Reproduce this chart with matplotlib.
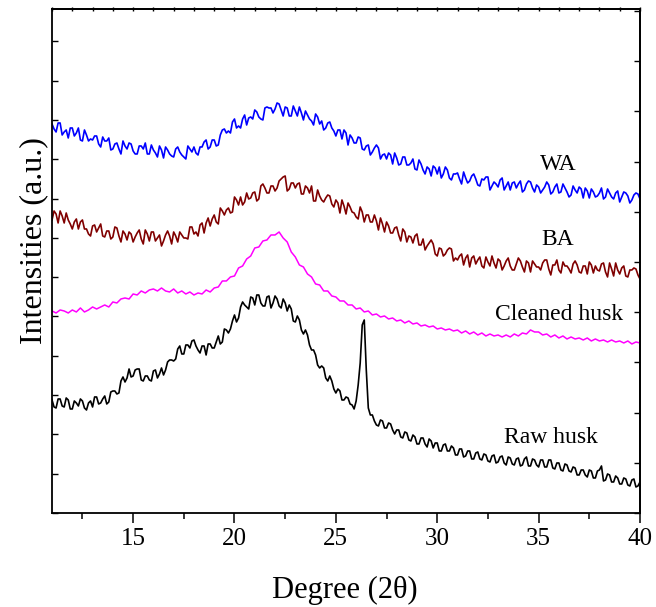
import numpy as np
import matplotlib
matplotlib.use("Agg")
import matplotlib.pyplot as plt
import matplotlib.ticker as ticker

# 2theta grids: noisy scans read every 0.1 degree, the smooth one every 0.2
theta_fine = np.round(np.arange(11.0, 40.001, 0.1), 1)
theta_coarse = np.round(np.arange(11.0, 40.001, 0.2), 1)

# intensities (arbitrary units, curves already offset)
wa = [389, 384, 381, 390, 390, 378, 381, 383, 375, 385,
      385, 377, 380, 385, 373, 372, 383, 378, 372, 374,
      373, 377, 377, 369, 366, 376, 372, 372, 375, 363,
      364, 369, 370, 364, 359, 372, 367, 364, 370, 369,
      362, 359, 359, 367, 367, 364, 370, 359, 359, 368,
      363, 360, 356, 367, 363, 355, 366, 363, 359, 357,
      356, 364, 366, 361, 358, 356, 354, 367, 364, 361,
      366, 360, 358, 366, 366, 371, 373, 364, 366, 373,
      373, 367, 368, 378, 383, 384, 380, 382, 380, 391,
      394, 385, 387, 385, 394, 398, 388, 395, 396, 394,
      403, 401, 396, 394, 393, 405, 406, 405, 405, 400,
      404, 410, 409, 403, 397, 406, 405, 397, 397, 407,
      402, 397, 406, 400, 393, 402, 398, 394, 392, 388,
      399, 396, 389, 392, 383, 385, 390, 391, 385, 382,
      377, 383, 383, 374, 383, 380, 368, 378, 375, 370,
      370, 376, 375, 364, 363, 367, 368, 358, 361, 365,
      368, 365, 354, 358, 359, 354, 360, 358, 349, 360,
      355, 348, 349, 356, 356, 348, 348, 350, 354, 344,
      343, 353, 349, 343, 339, 346, 344, 337, 347, 345,
      339, 346, 335, 339, 346, 343, 335, 333, 339, 339,
      340, 334, 329, 341, 335, 330, 332, 337, 339, 334,
      328, 327, 334, 333, 336, 336, 323, 327, 331, 329,
      326, 333, 335, 323, 327, 331, 323, 330, 331, 325,
      329, 332, 321, 323, 329, 332, 331, 325, 321, 328,
      326, 320, 323, 326, 331, 328, 319, 321, 326, 329,
      320, 321, 329, 325, 321, 316, 318, 327, 323, 320,
      326, 324, 315, 325, 322, 315, 324, 321, 316, 317,
      320, 325, 314, 316, 324, 320, 316, 314, 320, 322,
      311, 316, 321, 320, 317, 310, 313, 318, 320, 319,
      314]

ba = [293, 302, 299, 290, 302, 297, 290, 300, 293, 289,
      284, 291, 294, 284, 291, 293, 284, 284, 279, 277,
      287, 288, 281, 285, 289, 277, 276, 282, 282, 274,
      276, 286, 285, 277, 271, 282, 279, 273, 281, 279,
      271, 276, 280, 283, 274, 269, 283, 279, 272, 281,
      281, 272, 275, 278, 267, 272, 278, 282, 277, 269,
      281, 277, 271, 281, 278, 275, 275, 274, 286, 286,
      279, 281, 277, 288, 290, 280, 290, 295, 287, 294,
      298, 291, 289, 305, 302, 298, 303, 305, 300, 301,
      316, 313, 308, 316, 308, 311, 320, 314, 315, 320,
      321, 312, 314, 327, 329, 325, 320, 320, 327, 327,
      322, 325, 332, 334, 336, 337, 322, 324, 330, 330,
      325, 329, 330, 319, 319, 327, 325, 320, 327, 312,
      312, 323, 317, 313, 311, 315, 318, 317, 309, 306,
      313, 310, 300, 313, 307, 299, 310, 306, 301, 300,
      296, 294, 306, 301, 291, 298, 298, 291, 291, 298,
      292, 283, 295, 289, 281, 291, 287, 280, 280, 285,
      286, 278, 272, 284, 281, 271, 277, 276, 270, 277,
      279, 268, 268, 274, 263, 267, 270, 273, 269, 259,
      257, 265, 264, 257, 259, 263, 265, 264, 252, 255,
      253, 257, 259, 248, 255, 258, 246, 255, 257, 249,
      253, 256, 247, 245, 256, 251, 247, 257, 250, 245,
      254, 252, 243, 247, 252, 255, 247, 243, 243, 249,
      255, 252, 246, 241, 252, 250, 241, 252, 249, 246,
      246, 243, 250, 253, 253, 244, 238, 248, 248, 253,
      243, 240, 251, 247, 247, 244, 240, 249, 252, 248,
      241, 240, 247, 247, 239, 251, 248, 240, 247, 243,
      242, 249, 250, 241, 236, 250, 244, 237, 250, 243,
      239, 245, 247, 237, 236, 243, 243, 245, 244, 238,
      234]

cleaned = [202, 200, 203, 202, 200, 203, 201, 205, 201, 203,
           206, 204, 206, 208, 206, 211, 210, 214, 215, 214,
           219, 218, 222, 220, 223, 224, 222, 225, 222, 221,
           224, 220, 222, 219, 221, 218, 220, 219, 223, 221,
           225, 226, 232, 232, 236, 237, 245, 247, 254, 257,
           265, 266, 272, 273, 278, 278, 281, 275, 271, 261,
           256, 248, 246, 239, 236, 229, 228, 222, 222, 217,
           216, 212, 212, 208, 208, 204, 205, 201, 202, 198,
           199, 196, 197, 194, 195, 192, 193, 190, 192, 189,
           190, 187, 188, 186, 187, 184, 185, 183, 184, 182,
           183, 180, 182, 179, 181, 178, 180, 177, 179, 177,
           178, 176, 178, 176, 179, 177, 180, 179, 183, 181,
           181, 178, 179, 176, 178, 175, 177, 174, 176, 174,
           175, 173, 175, 172, 174, 172, 173, 171, 173, 171,
           172, 170, 172, 169, 171, 170]

raw = [113, 106, 105, 114, 114, 107, 106, 115, 113, 104,
       104, 112, 110, 107, 114, 112, 105, 103, 110, 112,
       106, 116, 116, 109, 110, 114, 117, 109, 111, 121,
       122, 122, 119, 120, 132, 136, 131, 135, 144, 136,
       137, 143, 144, 144, 133, 132, 137, 137, 133, 132,
       142, 143, 135, 139, 145, 138, 143, 151, 153, 153,
       152, 154, 164, 167, 159, 159, 168, 168, 165, 172,
       173, 167, 163, 160, 167, 167, 158, 169, 169, 165,
       165, 171, 177, 169, 171, 184, 183, 180, 184, 192,
       198, 191, 195, 206, 211, 208, 206, 204, 216, 215,
       208, 218, 218, 210, 207, 207, 216, 217, 205, 210,
       217, 214, 207, 205, 214, 210, 202, 208, 204, 192,
       191, 197, 193, 183, 179, 183, 178, 168, 163, 163,
       158, 148, 145, 147, 145, 135, 132, 137, 132, 124,
       120, 124, 122, 113, 113, 116, 115, 109, 108, 104,
       112, 128, 150, 188, 193, 143, 105, 98, 98, 92,
       88, 87, 93, 92, 85, 85, 90, 89, 83, 79,
       83, 83, 76, 75, 81, 80, 73, 72, 78, 76,
       69, 69, 75, 75, 69, 66, 74, 72, 65, 70,
       70, 62, 62, 68, 69, 62, 62, 67, 65, 58,
       58, 64, 64, 56, 57, 62, 62, 54, 54, 60,
       61, 54, 53, 59, 58, 52, 51, 57, 58, 50,
       51, 56, 57, 50, 48, 56, 55, 49, 48, 54,
       55, 47, 48, 54, 56, 47, 47, 54, 53, 48,
       46, 53, 53, 46, 46, 53, 53, 45, 44, 50,
       50, 43, 42, 49, 48, 42, 41, 46, 45, 38,
       38, 43, 43, 38, 36, 43, 42, 35, 35, 42,
       43, 47, 32, 33, 39, 38, 31, 31, 37, 35,
       29, 29, 35, 34, 28, 27, 33, 34, 26, 27,
       31]

names = ["WA", "BA", "Cleaned husk", "Raw husk"]
colors = ["#0000ff", "#800000", "#ff00ff", "#000000"]
widths = [1.2, 1.2, 1.1, 1.2]
# where the sample names sit (2theta, intensity)
label_x = [35.95, 35.95, 36.0, 35.6]
label_y = [348, 273, 198, 75]

plt.rcParams['font.family'] = ['Liberation Serif', 'DejaVu Serif']

fig = plt.figure(figsize=(6.56, 6.07), dpi=100)
ax = fig.add_axes([0.0793, 0.1549, 0.8963, 0.8303])

series = [(theta_fine, wa), (theta_fine, ba), (theta_coarse, cleaned), (theta_fine, raw)]
for (x, y), c, w in zip(series, colors, widths):
    ax.plot(x, y, color=c, lw=w)

for name, lx, ly in zip(names, label_x, label_y):
    ax.text(lx, ly, name, fontsize=17, ha='center', va='center')

ax.set_xlim(11, 40)
ax.set_ylim(0, 504)

# bottom axis: majors every 5, minors in between, ticks pointing out
ax.xaxis.set_major_locator(ticker.MultipleLocator(5))
ax.xaxis.set_minor_locator(ticker.MultipleLocator(2.5))
ax.tick_params(axis='x', which='major', direction='out', length=7, width=1.1,
               labelsize=18, pad=4)
ax.tick_params(axis='x', which='minor', direction='out', length=4, width=1.1)

# left axis: ticks only, no numbers
ax.yaxis.set_major_locator(ticker.MultipleLocator(39.3))
ax.tick_params(axis='y', which='major', direction='in', length=4, width=1.0,
               labelleft=False)

# right and top axes carry their own small ticks
right = ax.secondary_yaxis('right')
right.yaxis.set_major_locator(ticker.MultipleLocator(50.2))
right.tick_params(direction='in', length=4, width=1.0, labelright=False)
top = ax.secondary_xaxis('top')
top.xaxis.set_major_locator(ticker.MultipleLocator(1))
top.tick_params(direction='inout', length=3, width=1.0, labeltop=False)

for sp in ax.spines.values():
    sp.set_linewidth(1.3)
right.spines['right'].set_linewidth(1.3)
top.spines['top'].set_linewidth(1.3)

fig.text(34 / 656, 0.603, "Intensities (a.u.)", rotation=90, fontsize=23,
         ha='center', va='center')
fig.text(0.525, 0.028, "Degree (2\u03b8)", fontsize=22, ha='center', va='center')

fig.savefig("out.png", dpi=100)
